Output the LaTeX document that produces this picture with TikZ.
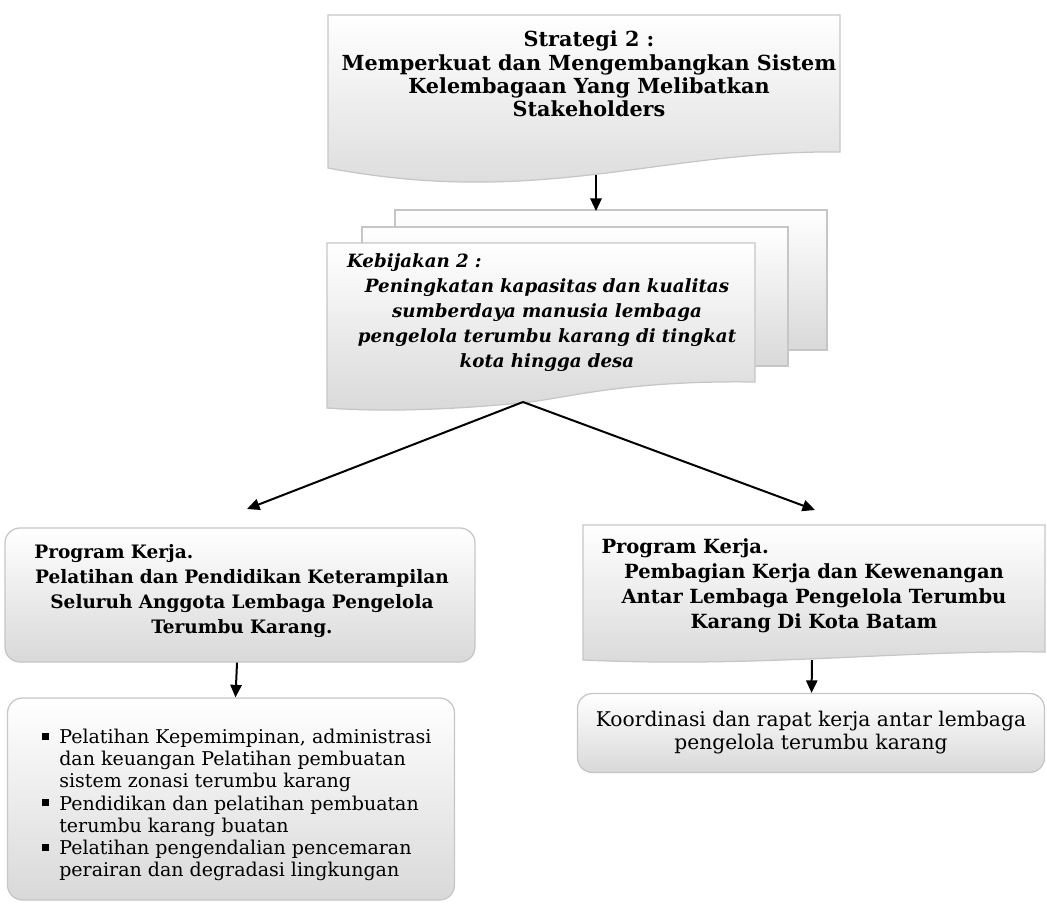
\documentclass[tikz,border=0pt]{standalone}
\usepackage{fontspec}
\setmainfont{DejaVu Serif}
\usetikzlibrary{positioning,arrows.meta}
\newcommand{\sqb}{\makebox[7pt][l]{\rule[1.5pt]{2.8pt}{2.8pt}}}

\begin{document}
\begin{tikzpicture}[
  x=0.4pt, y=-0.4pt,
  >={Triangle[length=5pt,width=4.5pt]},
  sheet/.style={top color=white, middle color=white, bottom color=gray!30,
                draw=gray!45, line width=0.5pt},
  rbox/.style={sheet, rounded corners=6pt, inner sep=0pt},
  hd/.style={font=\bfseries\fontsize{8.3}{9.3}\selectfont, align=center},
  kb/.style={font=\bfseries\itshape\fontsize{7.3}{10}\selectfont, align=center},
  pk/.style={font=\bfseries\fontsize{7.4}{10}\selectfont, align=center},
  body/.style={font=\fontsize{7.6}{8.9}\selectfont},
  link/.style={->, line width=0.8pt},
]
\useasboundingbox (0,0) rectangle (1047,906);

% ---------- Strategi (top sheet) ----------
\path[sheet] (328,15) -- (840,15) -- (840,152)
  .. controls (660,150) and (540,208) .. (328,168) -- cycle;
\coordinate (strat-out) at (596,175);
\node[hd] (strat) at (589,74) {Strategi 2 :\\Memperkuat dan Mengembangkan Sistem\\
  Kelembagaan Yang Melibatkan\\Stakeholders};

% ---------- Kebijakan (stacked sheets) ----------
\path[sheet] (395,210) rectangle (827,350);
\path[sheet] (362,227) rectangle (788,366);
\path[sheet] (327,243) -- (755,243) -- (755,382)
  .. controls (620,380) and (560,400) .. (520,403)
  .. controls (450,410) and (380,412) .. (327,408) -- cycle;
\coordinate (kebij-in) at (596,211);
\coordinate (kebij-out) at (523,402);
\node[kb, text width=160pt] (kebij) at (547,313)
  {\makebox[160pt][l]{Kebijakan 2 :}\\Peningkatan kapasitas dan kualitas\\
   sumberdaya manusia lembaga\\pengelola terumbu karang di tingkat\\kota hingga desa};

\draw[link] (strat-out) -- (kebij-in);

% ---------- Program kerja (left) ----------
\node[rbox, minimum width=188pt, minimum height=53.6pt] (progL) at (240,595) {};
\node[pk, text width=166pt] (progL-txt) at (242,591)
  {\makebox[166pt][l]{Program Kerja.}\\Pelatihan dan Pendidikan Keterampilan\\
   Seluruh Anggota Lembaga Pengelola\\Terumbu Karang.};
\coordinate (progL-in) at (247,509);

% ---------- Program kerja (right) ----------
\path[sheet] (583,525) -- (1045,525) -- (1045,652)
  .. controls (900,650) and (760,668) .. (583,660) -- cycle;
\coordinate (progR-in) at (815,510);
\coordinate (progR-out) at (812,660);
\node[pk, font=\bfseries\fontsize{7.8}{10}\selectfont, text width=170pt] (progR) at (814,586)
  {\makebox[170pt][l]{Program Kerja.}\\Pembagian Kerja dan Kewenangan\\
   Antar Lembaga Pengelola Terumbu\\Karang Di Kota Batam};

\draw[link] (kebij-out) -- (progL-in);
\draw[link] (kebij-out) -- (progR-in);

% ---------- kegiatan ----------
\node[rbox, minimum width=178.8pt, minimum height=80.8pt] (keg) at (231,799) {};
\node[body, align=left, anchor=west] (keg-txt) at (33,805)
  {\sqb Pelatihan Kepemimpinan, administrasi\\
   \hspace*{7pt}dan keuangan Pelatihan pembuatan\\
   \hspace*{7pt}sistem zonasi terumbu karang\\
   \sqb Pendidikan dan pelatihan pembuatan\\
   \hspace*{7pt}terumbu karang buatan\\
   \sqb Pelatihan pengendalian pencemaran\\
   \hspace*{7pt}perairan dan degradasi lingkungan};
\node[rbox, body, font=\fontsize{8.1}{9.2}\selectfont, align=center,
      minimum width=186.8pt, minimum height=31.6pt] (koord) at (811,733)
  {Koordinasi dan rapat kerja antar lembaga\\pengelola terumbu karang};

\draw[link] (progL) -- (keg);
\draw[link] (progR-out) -- (koord);

\end{tikzpicture}
\end{document}
